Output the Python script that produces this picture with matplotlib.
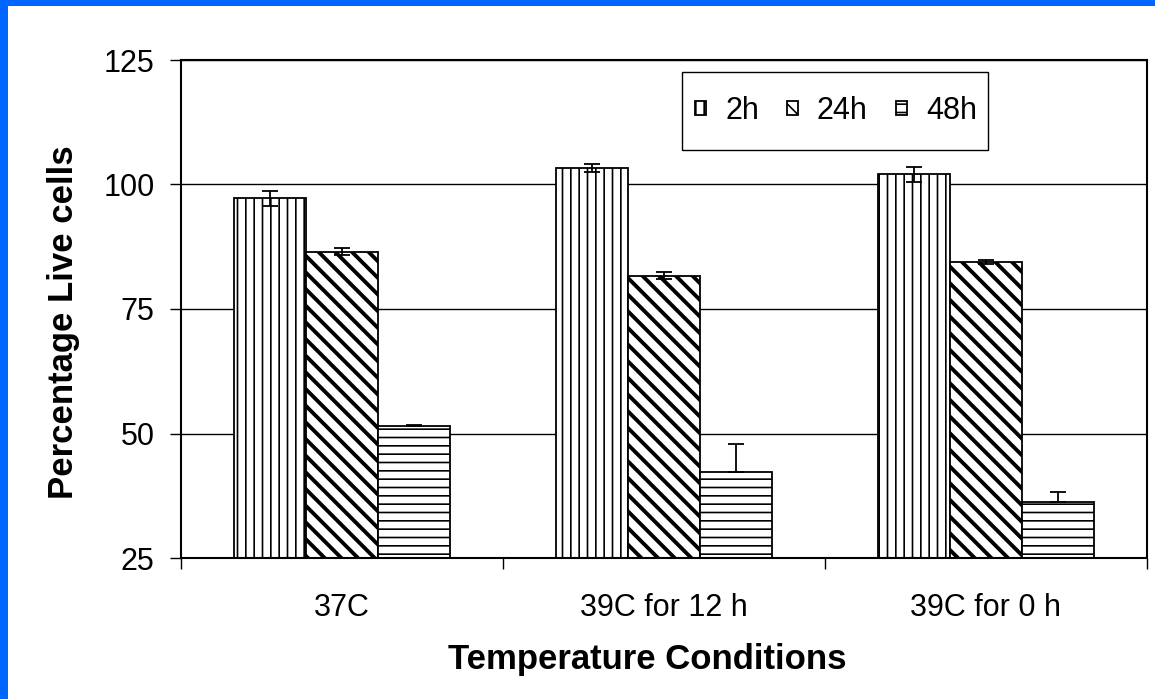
import numpy as np
import matplotlib.pyplot as plt
from matplotlib.patches import Rectangle

plt.rcParams['font.family'] = ['Liberation Sans', 'DejaVu Sans']

# data
categories = ['37C', '39C for 12 h', '39C for 0 h']
series = ['2h', '24h', '48h']
values_2h = [97.2, 103.3, 102.1]
values_24h = [86.5, 81.7, 84.5]
values_48h = [51.6, 42.3, 36.3]
err_2h = [1.5, 0.8, 1.5]
err_24h = [0.7, 0.7, 0.4]
err_48h = [0.2, 5.6, 1.9]

W, H = 1155, 699
fig = plt.figure(figsize=(W / 100, H / 100), dpi=100)
fig.patch.set_facecolor('white')
# blue frame on left and top
fig.patches.append(Rectangle((0, 0), 8 / W, 1, transform=fig.transFigure,
                             facecolor='#0066FF', edgecolor='none'))
fig.patches.append(Rectangle((0, 1 - 6 / H), 1, 6 / H, transform=fig.transFigure,
                             facecolor='#0066FF', edgecolor='none'))

ax = fig.add_axes([181 / W, (H - 558) / H, 966 / W, 498 / H])

x = np.arange(len(categories))
bw = 0.224
hatches = ['||', '\\\\', '--']
hlw = [1.2, 2.8, 1.2]
vals = [values_2h, values_24h, values_48h]
errs = [err_2h, err_24h, err_48h]
for i, s in enumerate(series):
    e = np.array(errs[i])
    if i == 2:
        yerr = [np.zeros_like(e), e]
    else:
        yerr = [e, e]
    plt.rcParams['hatch.linewidth'] = hlw[i]
    bars = ax.bar(x + (i - 1) * bw, vals[i], bw, color='white', edgecolor='black',
                  linewidth=1.3, hatch=hatches[i], label=s, zorder=2,
                  yerr=yerr, error_kw=dict(ecolor='black', elinewidth=1.3,
                                           capsize=5.5, capthick=1.3, zorder=3))
    for b in bars:
        if hasattr(b, 'set_hatch_linewidth'):
            b.set_hatch_linewidth(hlw[i])

ax.set_xlim(-0.5, 2.5)
ax.set_ylim(25, 125)
ax.set_yticks([25, 50, 75, 100, 125])
ax.yaxis.grid(True, color='black', linewidth=1.0)
ax.set_axisbelow(True)
ax.tick_params(axis='y', length=8, width=1, direction='out', labelsize=22, pad=11)
ax.set_xticks(x)
ax.set_xticklabels(categories)
ax.set_xticks([-0.5, 0.5, 1.5, 2.5], minor=True)
ax.tick_params(axis='x', which='major', length=0, labelsize=22, pad=25)
ax.tick_params(axis='x', which='minor', length=8, width=1, direction='out')
for sp in ax.spines.values():
    sp.set_linewidth(1.5)
    sp.set_color('black')

fig.text(647 / W, 1 - 660 / H, 'Temperature Conditions', fontsize=25,
         fontweight='bold', ha='center', va='center')
fig.text(64 / W, 1 - 322 / H, 'Percentage Live cells', fontsize=25,
         fontweight='bold', ha='center', va='center', rotation=90)

# legend box drawn separately so the padding can differ in x and y
bx0, bx1, by0, by1 = 682, 988, 72, 150
box = Rectangle(((bx0 - 181) / 966, (558 - by1) / 498), (bx1 - bx0) / 966,
                (by1 - by0) / 498, transform=ax.transAxes, facecolor='white',
                edgecolor='black', linewidth=1.0, zorder=4)
ax.add_patch(box)
leg = ax.legend(loc='center', bbox_to_anchor=((836 - 181) / 966, (558 - 111) / 498),
                ncol=3, fontsize=22, frameon=False, borderpad=0,
                handlelength=0.36, handleheight=0.36, handletextpad=0.62,
                columnspacing=0.92, borderaxespad=0)
leg.set_zorder(5)

fig.savefig('out.png', dpi=100)
